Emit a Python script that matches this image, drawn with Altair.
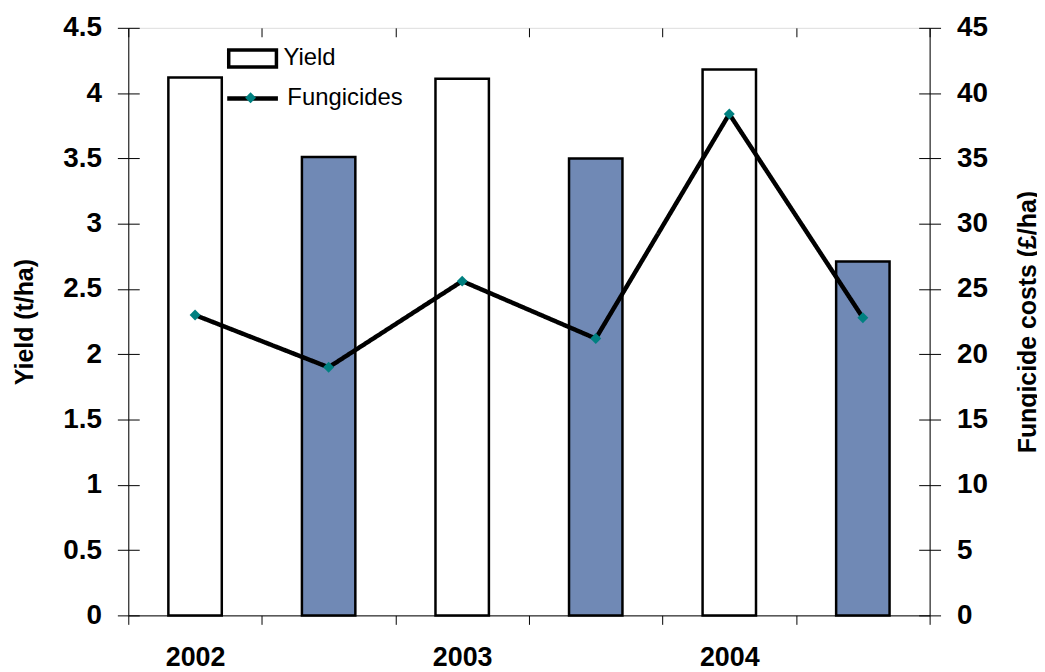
import altair as alt
import pandas as pd

# ---- data ----
categories = ["2002 A", "2002 B", "2003 A", "2003 B", "2004 A", "2004 B"]
systems = ["A", "B", "A", "B", "A", "B"]
yield_t_ha = [4.12, 3.51, 4.11, 3.50, 4.18, 2.71]
fungicide_cost = [23.0, 19.0, 25.6, 21.2, 38.4, 22.8]
yield_ticks = [0, 0.5, 1, 1.5, 2, 2.5, 3, 3.5, 4, 4.5]
cost_ticks = [0, 5, 10, 15, 20, 25, 30, 35, 40, 45]
bar_series = ["Yield"]
line_series = ["Fungicides"]
marker_series = ["Fungicides marker"]

df = pd.DataFrame({
    "category": categories,
    "system": systems,
    "yield": yield_t_ha,
    "cost": fungicide_cost,
    "bar_series": bar_series * len(categories),
    "series": line_series * len(categories),
    "marker": marker_series * len(categories),
})

FONT = "Liberation Sans"
BAR_BLUE = "#7089b5"
TEAL = "#008080"
RECT_SYMBOL = "M-2.4,-0.85H2.4V0.85H-2.4Z"

x_enc = alt.X(
    "category:N",
    sort=categories,
    scale=alt.Scale(paddingInner=0, paddingOuter=0),
    axis=alt.Axis(
        title=None,
        labelExpr="(datum.value != null && indexof(datum.value, 'A') >= 0) ? slice(datum.value, 0, 4) : ''",
        labelAngle=0,
        tickBand="extent",
        tickSize=9,
        tickColor="black",
        domainColor="black",
        grid=True,
        gridColor="black",
        gridOpacity=1,
        gridDash=[9, 5000],
        labelFont=FONT,
        labelFontSize=27,
        labelFontWeight="bold",
        labelColor="black",
        labelPadding=20,
    ),
)

bars = alt.Chart(df).mark_bar(
    strokeWidth=2.5, width=alt.RelativeBandSize(0.4)
).encode(
    x=x_enc,
    y=alt.Y(
        "yield:Q",
        scale=alt.Scale(domain=[0, 4.5], nice=False),
        axis=alt.Axis(
            values=yield_ticks,
            format="~g",
            title="Yield (t/ha)",
            titleFont=FONT,
            titleFontSize=25,
            titleFontWeight="bold",
            titleColor="black",
            titlePadding=25,
            tickSize=11,
            tickColor="black",
            domainColor="black",
            grid=True,
            gridColor="black",
            gridOpacity=1,
            gridDash=[11, 5000],
            labelFont=FONT,
            labelFontSize=28,
            labelFontWeight="bold",
            labelColor="black",
            labelPadding=16,
        ),
    ),
    fill=alt.Fill("system:N", scale=alt.Scale(domain=["A", "B"], range=["white", BAR_BLUE]), legend=None),
    stroke=alt.Stroke(
        "bar_series:N",
        scale=alt.Scale(domain=bar_series, range=["black"]),
        legend=alt.Legend(
            orient="none",
            legendX=113,
            legendY=18.8,
            title=None,
            padding=0,
            symbolType=RECT_SYMBOL,
            symbolSize=400,
            symbolFillColor="white",
            symbolStrokeColor="black",
            symbolStrokeWidth=3.5,
            symbolOpacity=1,
            labelFont=FONT,
            labelFontSize=24,
            labelColor="black",
            labelOffset=19,
        ),
    ),
)

y2 = alt.Y(
    "cost:Q",
    scale=alt.Scale(domain=[0, 45], nice=False),
    axis=alt.Axis(
        orient="right",
        values=cost_ticks,
        format="~g",
        title="Fungicide costs (£/ha)",
        titleAngle=270,
        titleFont=FONT,
        titleFontSize=25,
        titleFontWeight="bold",
        titleColor="black",
        titlePadding=53,
        tickSize=11,
        tickColor="black",
        domainColor="black",
        grid=True,
        gridColor="black",
        gridOpacity=1,
        gridDash=[11, 5000],
        labelFont=FONT,
        labelFontSize=28,
        labelFontWeight="bold",
        labelColor="black",
        labelPadding=16,
    ),
)

line = alt.Chart(df).mark_line(color="black", strokeWidth=4.5).encode(
    x=x_enc,
    y=y2,
    strokeDash=alt.StrokeDash(
        "series:N",
        scale=alt.Scale(domain=line_series, range=[[1, 0]]),
        legend=alt.Legend(
            orient="none",
            legendX=97,
            legendY=43,
            title=None,
            padding=0,
            symbolType="stroke",
            symbolSize=2601,
            symbolStrokeColor="black",
            symbolStrokeWidth=4.5,
            symbolOpacity=1,
            labelFont=FONT,
            labelFontSize=24,
            labelColor="black",
            labelOffset=7,
            zindex=1,
        ),
    ),
)

points = alt.Chart(df).mark_point(filled=True, shape="diamond", size=121, opacity=1).encode(
    x=x_enc,
    y=alt.Y("cost:Q"),
    color=alt.Color(
        "marker:N",
        scale=alt.Scale(domain=marker_series, range=[TEAL]),
        legend=alt.Legend(
            orient="none",
            legendX=117.5,
            legendY=64.8,
            title=None,
            padding=0,
            symbolType="diamond",
            symbolSize=121,
            symbolFillColor=TEAL,
            symbolStrokeWidth=0,
            labelExpr="''",
            labelFontSize=8,
            zindex=2,
        ),
    ),
)

right = alt.layer(line, points)

chart = (
    alt.layer(bars, right)
    .resolve_scale(y="independent")
    .properties(
        width=806,
        height=591,
        autosize=alt.AutoSizeParams(type="none"),
        padding={"left": 121, "top": 18, "right": 108, "bottom": 54},
    )
    .configure_view(strokeWidth=0)
    .configure(font=FONT)
)

chart.save("out.html", embed_options={"renderer": "svg", "actions": False})
